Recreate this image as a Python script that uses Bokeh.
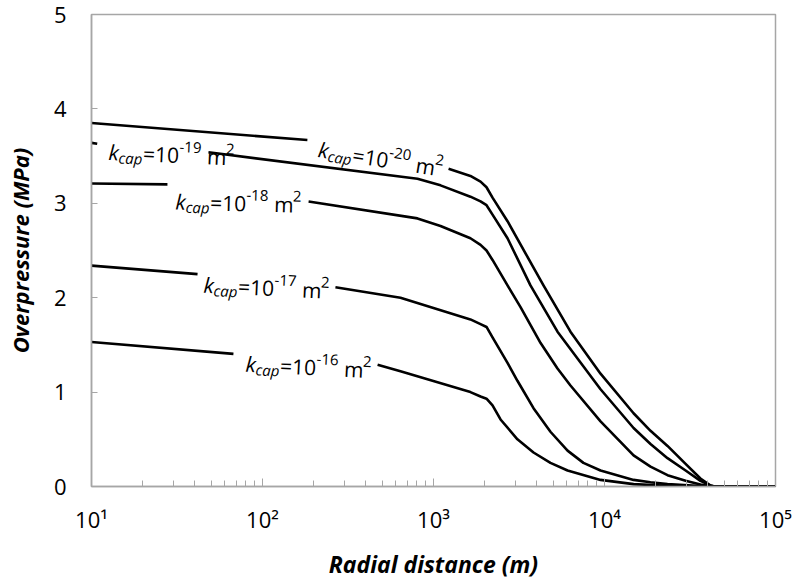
import math
from bokeh.plotting import figure
from bokeh.models import ColumnDataSource, FixedTicker
from bokeh.embed import file_html
from bokeh.resources import INLINE
from bokeh.core.properties import value

# ---------------- data ----------------
dist_20 = [10, 183, 1225, 1644, 1884, 2042, 2214, 2709, 4397, 6324, 9480, 14790, 18580, 23360, 29800, 36400, 41700, 44000, 100000]
op_20 = [3.85, 3.67, 3.365, 3.29, 3.23, 3.17, 3.06, 2.81, 2.13, 1.64, 1.195, 0.776, 0.59, 0.43, 0.24, 0.085, 0.01, 0.0, 0.0]

dist_19 = [10, 10.8, 48.3, 806, 1099, 1644, 1884, 2042, 2214, 2709, 3690, 5310, 9480, 14790, 18580, 23360, 29800, 36400, 41700, 44000, 100000]
op_19 = [3.64, 3.63, 3.54, 3.26, 3.19, 3.07, 3.02, 2.98, 2.88, 2.63, 2.13, 1.64, 1.03, 0.62, 0.45, 0.30, 0.17, 0.06, 0.01, 0.0, 0.0]

dist_18 = [10, 27.8, 186, 806, 1099, 1644, 1884, 2042, 2214, 2709, 3228, 4230, 5310, 6324, 9480, 14790, 18580, 23360, 29800, 36400, 41700, 44000, 100000]
op_18 = [3.21, 3.20, 3.02, 2.84, 2.76, 2.63, 2.56, 2.50, 2.40, 2.13, 1.90, 1.52, 1.25, 1.07, 0.69, 0.33, 0.21, 0.12, 0.06, 0.02, 0.003, 0.0, 0.0]

dist_17 = [10, 41.7, 267, 641, 1644, 1884, 2042, 2214, 2709, 3096, 3845, 4830, 6080, 7530, 9480, 14790, 18580, 23360, 36400, 44000, 100000]
op_17 = [2.34, 2.25, 2.11, 2.00, 1.77, 1.72, 1.69, 1.58, 1.31, 1.12, 0.83, 0.58, 0.38, 0.25, 0.17, 0.07, 0.045, 0.025, 0.005, 0.0, 0.0]

dist_16 = [10, 67.6, 471, 641, 1644, 1884, 2042, 2214, 2466, 3096, 3845, 4830, 6080, 9480, 14790, 23360, 36400, 100000]
op_16 = [1.53, 1.405, 1.29, 1.22, 1.00, 0.954, 0.93, 0.86, 0.71, 0.50, 0.36, 0.25, 0.17, 0.07, 0.025, 0.008, 0.0, 0.0]

curves = [(dist_20, op_20), (dist_19, op_19), (dist_18, op_18), (dist_17, op_17), (dist_16, op_16)]

# label exponents, the line gap each label sits in, label anchor and tilt
label_exp = ["-20", "-19", "-18", "-17", "-16"]
label_gap = [(183, 1225), (10.8, 48.3), (27.8, 186), (41.7, 267), (67.6, 471)]
label_x = [212.6, 12.57, 31.0, 45.2, 79.6]
label_y = [3.574, 3.543, 3.019, 2.138, 1.300]
label_tilt = [-9.0, -2.5, -1.5, -2.8, -2.9]

x_ticks = [10, 100, 1000, 10000, 100000]
x_tick_labels = ["10\u00b9", "10\u00b2", "10\u00b3", "10\u2074", "10\u2075"]
y_ticks = [0, 1, 2, 3, 4, 5]

FONT = "Open Sans"
GRAY = "#a6a6a6"

p = figure(width=793, height=582, x_axis_type="log", x_range=(10, 1e5), y_range=(0, 5),
           output_backend="svg", toolbar_location=None,
           min_border_left=91, min_border_right=18, min_border_top=14, min_border_bottom=91)
p.xgrid.visible = False
p.ygrid.visible = False
p.outline_line_color = GRAY
p.outline_line_width = 1.5
p.background_fill_color = "white"

minor = [m * 10 ** k for k in range(1, 5) for m in range(2, 10)]
p.xaxis.ticker = FixedTicker(ticks=x_ticks, minor_ticks=minor)
p.xaxis.major_label_overrides = {t: s for t, s in zip(x_ticks, x_tick_labels)}
p.yaxis.ticker = FixedTicker(ticks=y_ticks, minor_ticks=[])
for ax in (p.xaxis[0], p.yaxis[0]):
    ax.axis_line_color = GRAY
    ax.axis_line_width = 1.5
    ax.major_tick_line_color = GRAY
    ax.minor_tick_line_color = GRAY
    ax.major_tick_out = 0
    ax.minor_tick_out = 0
    ax.major_label_text_font = FONT
    ax.major_label_text_font_size = "22px"
    ax.major_label_text_color = "black"
    ax.axis_label_text_font = FONT
    ax.axis_label_text_font_style = "bold italic"
    ax.axis_label_text_color = "black"
p.xaxis.axis_label_text_font_size = "23px"
p.yaxis.axis_label_text_font_size = "22px"
p.xaxis.major_tick_in = 8
p.xaxis.minor_tick_in = 6
p.yaxis.major_tick_in = 6
p.yaxis.minor_tick_in = 0
p.xaxis.major_label_standoff = 17
p.yaxis.major_label_standoff = 25
p.xaxis.axis_label = "Radial distance (m)"
p.yaxis.axis_label = "Overpressure (MPa)"
p.xaxis.axis_label_standoff = 11
p.yaxis.axis_label_standoff = 16

# curves with gaps for the labels
xs_all, ys_all = [], []
for (dx, dy), (g0, g1) in zip(curves, label_gap):
    a = [(x, y) for x, y in zip(dx, dy) if x <= g0]
    b = [(x, y) for x, y in zip(dx, dy) if x >= g1]
    for seg in (a, b):
        xs_all.append([q[0] for q in seg])
        ys_all.append([q[1] for q in seg])
p.multi_line(xs=xs_all, ys=ys_all, line_color="black", line_width=2.6, line_join="round")

# rich labels k_cap = 10^exp m^2 built from pieces
W = {'0': .572, '1': .572, '2': .572, '6': .572, '7': .572, '8': .572, '9': .572,
     '=': .572, '-': .322, 'm': .882, 'k': .49, 'c': .44, 'a': .56, 'p': .56}
BIG, SMALL = 21, 15
src = dict(x=[], y=[], text=[], angle=[], xo=[], yo=[], fs=[], fst=[])
for ex, lx, ly, tilt in zip(label_exp, label_x, label_y, label_tilt):
    a = math.radians(tilt)
    # (text, size, style, baseline shift, gap before)
    pieces = [("k", BIG, "italic", 0, 0), ("cap", SMALL, "italic", -5, 0),
              ("=10", BIG, "normal", 0, 1), (ex, SMALL, "normal", 8, 0),
              ("m", BIG, "normal", 0, 6), ("2", SMALL, "normal", 8, 0)]
    s = 0.0
    for txt, fs, fst, v, gap in pieces:
        s += gap
        dxo = s * math.cos(a) - v * math.sin(a)
        dyo = -(s * math.sin(a) + v * math.cos(a))
        src["x"].append(lx); src["y"].append(ly); src["text"].append(txt)
        src["angle"].append(a); src["xo"].append(dxo); src["yo"].append(dyo)
        src["fs"].append(f"{fs}px"); src["fst"].append(fst)
        s += sum(W.get(ch, .55) for ch in txt) * fs
p.text(x="x", y="y", text="text", angle="angle", x_offset="xo", y_offset="yo",
       text_font=value(FONT), text_font_size="fs", text_font_style="fst",
       text_align="left", text_baseline="alphabetic", text_color="black",
       source=ColumnDataSource(src))

open("out.html", "w").write(file_html(p, INLINE))
